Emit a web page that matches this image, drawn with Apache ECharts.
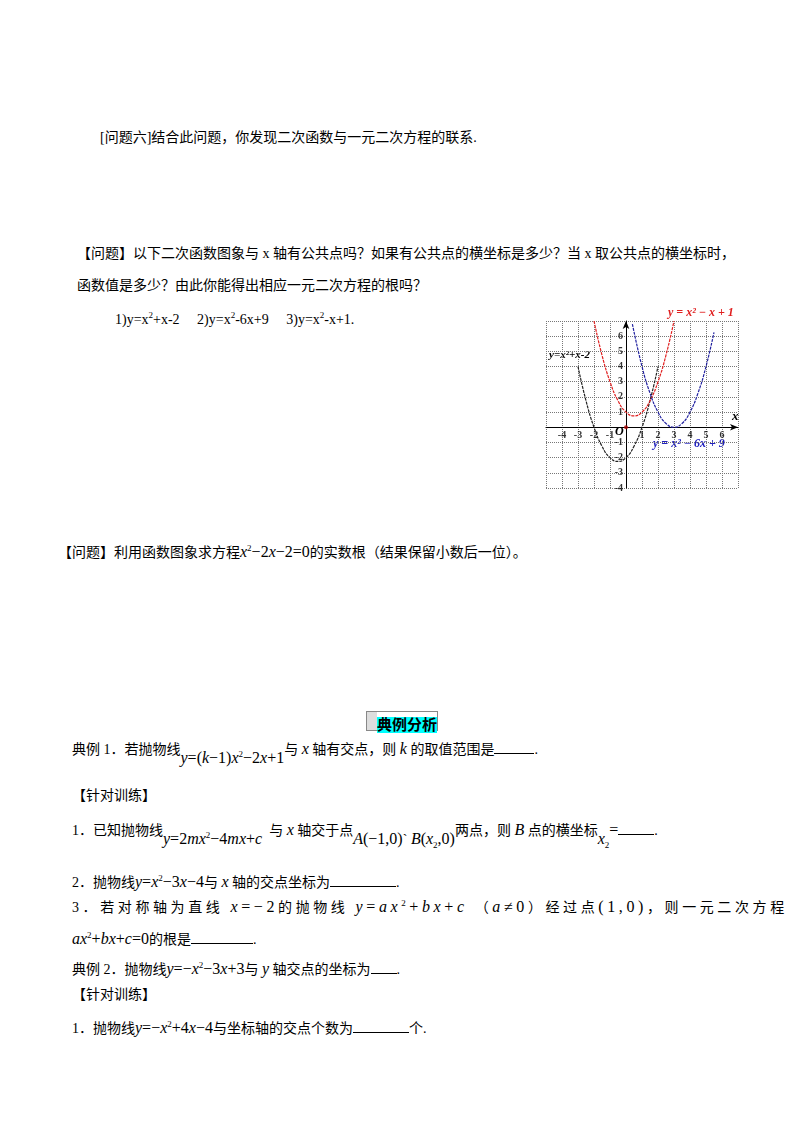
<!DOCTYPE html>
<html><head><meta charset="utf-8">
<script src="https://cdn.jsdelivr.net/npm/echarts@6/dist/echarts.min.js"></script>
<style>
body{margin:0;width:800px;height:1132px;background:#fff;position:relative;font-family:"Liberation Serif","Noto Sans CJK SC",serif;font-size:14px;color:#000;}
.t{position:absolute;white-space:nowrap;line-height:18px;}
i{font-family:"Liberation Serif";font-style:italic;font-size:16px}
.m{font-family:"Liberation Serif";font-size:16px}
u{display:inline-block;border-bottom:1px solid #000;height:12px;vertical-align:baseline}
</style></head><body>
<div class="t" style="left:100px;top:129px">[问题六]结合此问题，你发现二次函数与一元二次方程的联系.</div>
<div class="t" style="left:77px;top:245px">【问题】以下二次函数图象与 x 轴有公共点吗？如果有公共点的横坐标是多少？当 x 取公共点的横坐标时，</div>
<div class="t" style="left:77px;top:277px">函数值是多少？由此你能得出相应一元二次方程的根吗？</div>
<div class="t" style="left:115px;top:306px">1)y=x<sup style="font-size:9px">2</sup>+x-2 &nbsp;&nbsp;&nbsp; 2)y=x<sup style="font-size:9px">2</sup>-6x+9 &nbsp;&nbsp;&nbsp; 3)y=x<sup style="font-size:9px">2</sup>-x+1.</div>
<div class="t" style="left:58px;top:539px">【问题】利用函数图象求方程<i>x</i><sup style="font-size:9px">2</sup><span class="m">−2</span><i>x</i><span class="m">−2=0</span>的实数根（结果保留小数后一位）。</div>
<div class="t" style="left:366px;top:711px;height:18px;border:1px solid #888;width:70px;"><span style="display:inline-block;width:10px;height:18px;background:#ddd"></span><span style="background:#0ff;font-weight:bold;font-size:15px">典例分析</span></div>
<div class="t" style="left:72px;top:736px">典例 1．若抛物线<span style="position:relative;top:9px"><i>y</i><span class="m">=(</span><i>k</i><span class="m">−1)</span><i>x</i><sup style="font-size:9px">2</sup><span class="m">−2</span><i>x</i><span class="m">+1</span></span>与 <i>x</i> 轴有交点，则 <i>k</i> 的取值范围是<u style="width:40px"></u>.</div>
<div class="t" style="left:72px;top:787px">【针对训练】</div>
<div class="t" style="left:72px;top:817px">1．已知抛物线<span style="position:relative;top:9px"><i>y</i><span class="m">=2</span><i>mx</i><sup style="font-size:9px">2</sup><span class="m">−4</span><i>mx</i><span class="m">+</span><i>c</i></span> &nbsp;与 <i>x</i> 轴交于点<span style="position:relative;top:9px"><i>A</i><span class="m">(−1,0)</span>`&nbsp;<i>B</i><span class="m">(</span><i>x</i><sub style="font-size:9px">2</sub><span class="m">,0)</span></span>两点，则 <i>B</i> 点的横坐标<span style="position:relative;top:9px"><i>x</i><sub style="font-size:9px">2</sub></span><span class="m">=</span><u style="width:36px"></u>.</div>
<div class="t" style="left:72px;top:869px">2．抛物线<i>y</i><span class="m">=</span><i>x</i><sup style="font-size:9px">2</sup><span class="m">−3</span><i>x</i><span class="m">−4</span>与 <i>x</i> 轴的交点坐标为<u style="width:66px"></u>.</div>
<div class="t" style="left:72px;top:894px;letter-spacing:3.6px">3．若对称轴为直线 <i>x</i><span class="m">=−2</span>的抛物线 <i>y</i><span class="m">=</span><i>ax</i><sup style="font-size:9px">2</sup><span class="m">+</span><i>bx</i><span class="m">+</span><i>c</i> （<i>a</i><span class="m">≠0</span>）经过点<span class="m">(1,0)</span>，则一元二次方程</div>
<div class="t" style="left:72px;top:926px"><i>ax</i><sup style="font-size:9px">2</sup><span class="m">+</span><i>bx</i><span class="m">+</span><i>c</i><span class="m">=0</span>的根是<u style="width:62px"></u>.</div>
<div class="t" style="left:72px;top:956px">典例 2．抛物线<i>y</i><span class="m">=−</span><i>x</i><sup style="font-size:9px">2</sup><span class="m">−3</span><i>x</i><span class="m">+3</span>与 <i>y</i> 轴交点的坐标为<u style="width:26px"></u>.</div>
<div class="t" style="left:72px;top:986px">【针对训练】</div>
<div class="t" style="left:72px;top:1015px">1．抛物线<i>y</i><span class="m">=−</span><i>x</i><sup style="font-size:9px">2</sup><span class="m">+4</span><i>x</i><span class="m">−4</span>与坐标轴的交点个数为<u style="width:56px"></u>个.</div>
<div id="c" style="position:absolute;left:535px;top:300px;width:230px;height:200px"></div>
<script>
const blackX=[-3,-2.5,-2,-1.5,-1,-0.5,0,0.5,1,1.5,2];
const blackY=[4,1.75,0,-1.25,-2,-2.25,-2,-1.25,0,1.75,4];
const redX=[-2,-1.5,-1,-0.5,0,0.5,1,1.5,2,2.5,3];
const redY=[7,4.75,3,1.75,1,0.75,1,1.75,3,4.75,7];
const blueX=[0.4,1,1.5,2,2.5,3,3.5,4,4.5,5,5.5];
const blueY=[6.8,4,2.25,1,0.25,0,0.25,1,2.25,4,6.25];
const xTicks=[-4,-3,-2,-1,1,2,3,4,5,6];
const yTicks=[-4,-3,-2,-1,1,2,3,4,5,6];
const z=(a,b)=>a.map((v,i)=>[v,b[i]]);
const ch=echarts.init(document.getElementById('c'));
const lbl={fontFamily:'Liberation Serif',fontWeight:'bold',fontSize:10,color:'#000'};
ch.setOption({animation:false,
grid:{left:11,right:27,top:21,bottom:12},
xAxis:{type:'value',min:-5,max:7,interval:1,
 axisLine:{onZero:true,lineStyle:{color:'#000'},symbol:['none','arrow'],symbolSize:[5,8]},
 axisTick:{show:false},splitLine:{show:true,lineStyle:{type:'dotted',color:'#777'}},
 axisLabel:{show:false}},
yAxis:{type:'value',min:-4,max:7,interval:1,
 axisLine:{onZero:true,lineStyle:{color:'#000'},symbol:['none','arrow'],symbolSize:[5,8]},
 axisTick:{show:false},splitLine:{show:true,lineStyle:{type:'dotted',color:'#777'}},
 axisLabel:{show:false}},
series:[
 {type:'line',data:z(blackX,blackY),smooth:true,symbol:'none',lineStyle:{color:'#222',width:1.2,type:[3,1]}},
 {type:'line',data:z(redX,redY),smooth:true,symbol:'none',lineStyle:{color:'#e02020',width:1.2,type:[3,1]}},
 {type:'line',data:z(blueX,blueY),smooth:true,symbol:'none',lineStyle:{color:'#2020a0',width:1.2,type:[3,1]}},
 {type:'scatter',data:[[0,0]],symbolSize:4,itemStyle:{color:'#a00'},z:5},
 {type:'scatter',data:xTicks.map(v=>[v,0]),symbolSize:0,silent:true,
  label:{show:true,position:'bottom',distance:3,...lbl,formatter:p=>String(p.value[0])}},
 {type:'scatter',data:yTicks.map(v=>[0,v]),symbolSize:0,silent:true,
  label:{show:true,position:'left',distance:3,...lbl,formatter:p=>String(p.value[1])}}
],
graphic:[
 {type:'text',left:133,top:7,style:{text:'y = x² − x + 1',font:'italic bold 12px Liberation Serif',fill:'#e02020'}},
 {type:'text',left:118,top:138,style:{text:'y = x² − 6x + 9',font:'italic bold 12px Liberation Serif',fill:'#2020c0'}},
 {type:'text',left:14,top:50,style:{text:'y=x²+x-2',font:'italic bold 11px Liberation Serif',fill:'#000'}},
 {type:'text',left:80,top:126,style:{text:'O',font:'italic bold 12px Liberation Serif',fill:'#000'}},
 {type:'text',left:197,top:110,style:{text:'x',font:'italic bold 13px Liberation Serif',fill:'#000'}}
]});
</script>
</body></html>
